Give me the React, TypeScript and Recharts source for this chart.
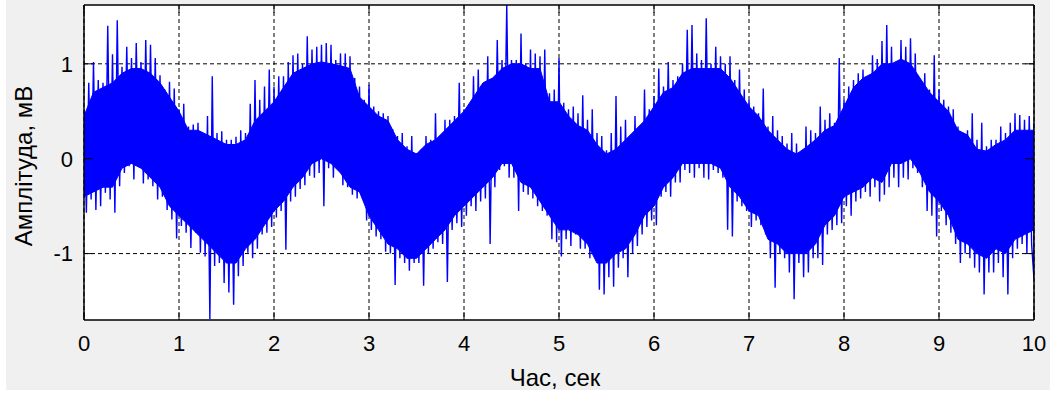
import React from "react";
import { ComposedChart, Line, Area, XAxis, YAxis, CartesianGrid } from "recharts";

// spike tips every 0.05 s (upper / lower), mV
const HI = [
  0.52, 0.8, 1.02, 0.83, 0.8, 1.4, 1.1, 1.46, 0.97, 1.18,
  1.06, 1.22, 1.02, 1.25, 1.2, 1.06, 0.88, 0.73, 0.81, 0.74,
  0.52, 0.58, 0.34, 0.36, 0.38, 0.27, 0.45, 0.87, 0.27, 0.29,
  0.2, 0.2, 0.23, 0.3, 0.27, 0.58, 0.83, 0.62, 0.76, 0.94,
  0.76, 0.87, 0.87, 1.02, 1.09, 1.11, 1.0, 1.29, 1.15, 1.18,
  1.2, 1.22, 1.2, 1.04, 1.11, 1.11, 1.08, 0.85, 0.76, 0.62,
  0.78, 0.55, 0.5, 0.48, 0.45, 0.31, 0.24, 0.27, 0.13, 0.24,
  0.06, 0.1, 0.24, 0.2, 0.48, 0.24, 0.41, 0.41, 0.45, 0.8,
  0.52, 0.55, 0.87, 0.94, 0.76, 1.08, 0.83, 1.25, 1.04, 1.62,
  1.04, 1.04, 1.32, 1.0, 1.15, 1.11, 1.08, 1.15, 0.69, 0.73,
  1.06, 0.59, 0.52, 0.55, 0.48, 0.67, 0.41, 0.52, 0.27, 0.24,
  0.09, 0.27, 0.66, 0.34, 0.41, 0.24, 0.45, 0.34, 0.73, 0.52,
  0.66, 0.95, 0.76, 1.02, 0.83, 0.87, 1.0, 1.36, 1.41, 1.11,
  1.04, 1.48, 1.0, 1.18, 1.08, 1.0, 1.08, 0.83, 0.94, 0.73,
  0.62, 0.55, 0.48, 0.74, 0.34, 0.45, 0.3, 0.24, 0.16, 0.27,
  0.16, 0.06, 0.34, 0.3, 0.27, 0.55, 0.41, 0.48, 0.38, 1.06,
  0.62, 0.76, 0.83, 0.9, 0.94, 0.87, 1.09, 1.05, 1.24, 1.41,
  1.18, 1.0, 1.25, 1.18, 1.27, 1.11, 0.83, 0.9, 0.73, 1.09,
  0.73, 0.62, 0.55, 0.52, 0.34, 0.27, 0.3, 0.48, 0.2, 0.38,
  0.13, 0.2, 0.2, 0.34, 0.27, 0.38, 0.48, 0.46, 0.41, 0.45,
  0.38,
];

const LO = [
  -0.57, -0.43, -0.54, -0.5, -0.36, -0.43, -0.57, -0.29, -0.15, -0.08,
  -0.22, -0.08, -0.26, -0.22, -0.29, -0.43, -0.4, -0.54, -0.64, -0.84,
  -0.71, -0.78, -0.94, -0.78, -0.99, -1.03, -1.69, -1.13, -1.1, -1.31,
  -1.41, -1.54, -1.24, -1.13, -0.99, -1.05, -0.95, -0.8, -0.78, -0.72,
  -0.62, -0.55, -0.96, -0.45, -0.4, -0.32, -0.28, -0.18, -0.2, -0.15,
  -0.5, -0.1, -0.2, -0.12, -0.28, -0.3, -0.38, -0.42, -0.4, -0.65,
  -0.75, -0.82, -0.85, -0.98, -1.0, -1.33, -1.05, -1.1, -1.18, -1.1,
  -1.1, -1.34, -1.0, -0.95, -0.88, -0.9, -1.3, -0.75, -0.68, -0.72,
  -0.6, -0.5, -0.55, -0.45, -0.42, -0.9, -0.3, -0.12, -0.08, -0.2,
  -0.2, -0.55, -0.35, -0.38, -0.42, -0.5, -0.55, -0.6, -0.85, -0.88,
  -1.03, -0.85, -0.92, -0.8, -0.95, -0.95, -1.05, -1.0, -1.38, -1.43,
  -1.25, -1.35, -1.15, -1.05, -1.25, -1.0, -0.92, -0.8, -0.72, -0.65,
  -0.7, -0.4, -0.35, -0.4, -0.25, -0.25, -0.12, -0.15, -0.2, -0.1,
  -0.2, -0.22, -0.12, -0.15, -0.2, -0.75, -0.82, -0.45, -0.5, -0.55,
  -0.72, -0.65, -0.7, -0.8, -1.05, -1.36, -1.0, -1.05, -1.2, -1.48,
  -1.1, -1.25, -1.2, -1.05, -1.05, -1.12, -0.8, -0.75, -0.7, -0.68,
  -0.5, -0.6, -0.45, -0.42, -0.35, -0.4, -0.3, -0.45, -0.38, -0.3,
  -0.2, -0.3, -0.2, -0.22, -0.1, -0.15, -0.3, -0.55, -0.6, -0.82,
  -0.55, -0.7, -0.78, -0.9, -1.1, -1.0, -1.05, -1.15, -1.2, -1.43,
  -1.2, -1.2, -1.1, -1.25, -1.43, -1.05, -0.95, -0.9, -1.0, -0.9,
  -1.27,
];

// solid core of the trace, read every 0.1 s, mV
const CORE_HI = [
  0.45, 0.7, 0.75, 0.8, 0.9, 0.95, 0.95, 0.9, 0.8, 0.65,
  0.5, 0.3, 0.3, 0.25, 0.2, 0.15, 0.15, 0.2, 0.4, 0.5,
  0.6, 0.75, 0.9, 0.95, 1.0, 1.02, 1.0, 0.98, 0.95, 0.65,
  0.55, 0.45, 0.4, 0.2, 0.1, 0.05, 0.15, 0.2, 0.3, 0.4,
  0.5, 0.65, 0.8, 0.85, 0.95, 1.0, 1.0, 0.95, 0.95, 0.6,
  0.6, 0.45, 0.35, 0.3, 0.15, 0.05, 0.1, 0.2, 0.3, 0.4,
  0.55, 0.7, 0.75, 0.9, 0.95, 0.95, 0.95, 0.95, 0.85, 0.7,
  0.55, 0.45, 0.3, 0.2, 0.1, 0.05, 0.12, 0.2, 0.3, 0.35,
  0.55, 0.75, 0.85, 0.9, 1.0, 1.0, 1.05, 1.0, 0.85, 0.7,
  0.6, 0.5, 0.3, 0.25, 0.1, 0.08, 0.15, 0.2, 0.3, 0.3,
  0.3,
];

const CORE_LO = [
  -0.4, -0.35, -0.3, -0.3, -0.1, -0.05, -0.1, -0.2, -0.3, -0.5,
  -0.6, -0.7, -0.8, -0.9, -1.0, -1.1, -1.1, -0.95, -0.85, -0.7,
  -0.55, -0.45, -0.3, -0.2, -0.05, 0.0, -0.05, -0.15, -0.3, -0.35,
  -0.6, -0.75, -0.9, -0.95, -1.05, -1.05, -0.95, -0.85, -0.75, -0.6,
  -0.5, -0.4, -0.3, -0.2, -0.05, -0.05, -0.25, -0.3, -0.45, -0.6,
  -0.75, -0.75, -0.8, -0.9, -1.1, -1.1, -1.0, -0.95, -0.8, -0.6,
  -0.5, -0.3, -0.2, -0.05, -0.05, -0.05, -0.05, -0.1, -0.3, -0.4,
  -0.55, -0.6, -0.85, -0.9, -1.0, -1.0, -1.0, -0.9, -0.7, -0.6,
  -0.4, -0.35, -0.3, -0.2, -0.25, -0.05, -0.05, 0.0, -0.15, -0.35,
  -0.45, -0.6, -0.85, -0.9, -1.0, -1.05, -0.95, -1.0, -0.85, -0.8,
  -0.75,
];

const TIP_STEP = 0.05;
const CORE_STEP = 0.1;
const X_TICKS = [0, 1, 2, 3, 4, 5, 6, 7, 8, 9, 10];
const Y_TICKS = [-1, 0, 1];
const Y_DOMAIN = [-1.7, 1.62];

// zigzag through the tips: upper tip at t, lower tip half a step later
const tips = HI.flatMap((hi, i) => {
  const t = i * TIP_STEP;
  if (i === HI.length - 1) return [{ t, v: LO[i] }, { t, v: hi }];
  return [{ t, v: hi }, { t: t + TIP_STEP / 2, v: LO[i] }];
});
const core = CORE_HI.map((hi, i) => ({ t: i * CORE_STEP, band: [CORE_LO[i], hi] }));

const W = 1050;
const H = 394;
const PLOT = { left: 84, right: 1034, top: 5, bottom: 320 };
const FONT = "'Liberation Sans', Arial, sans-serif";
const BLUE = "#0000ff";

const BottomTick = ({ x, payload }: any) => (
  <g>
    <line x1={x} x2={x} y1={PLOT.bottom} y2={PLOT.bottom - 8} stroke="#000" />
    <text x={x} y={PLOT.bottom + 15} dy="0.71em" textAnchor="middle" fontSize={22} fontFamily={FONT} fill="#000">
      {payload.value}
    </text>
  </g>
);

const LeftTick = ({ y, payload }: any) => (
  <g>
    <line x1={PLOT.left} x2={PLOT.left + 9} y1={y} y2={y} stroke="#000" />
    <text x={PLOT.left - 11} y={y} dy="0.355em" textAnchor="end" fontSize={22} fontFamily={FONT} fill="#000">
      {payload.value}
    </text>
  </g>
);

const TopTick = ({ x }: any) => <line x1={x} x2={x} y1={PLOT.top} y2={PLOT.top + 8} stroke="#000" />;
const RightTick = ({ y }: any) => <line x1={PLOT.right} x2={PLOT.right - 9} y1={y} y2={y} stroke="#000" />;

const axisLine = { stroke: "#000", strokeWidth: 1.5 };

export default function App() {
  return (
    <div style={{ position: "relative", width: W, height: H, background: "#fff" }}>
      <style>{"body{margin:0}"}</style>
      <div style={{ position: "absolute", left: 6, top: 0, width: W - 6, height: 390, background: "#f0f0f0" }} />
      <div style={{ position: "absolute", left: 0, top: 0 }}>
        <ComposedChart width={W} height={H} margin={{ top: 0, right: 0, bottom: 0, left: 0 }}>
          <CartesianGrid
            xAxisId="b"
            yAxisId="l"
            fill="#fff"
            stroke="#000"
            strokeDasharray="4 3"
            horizontalValues={Y_TICKS}
            verticalValues={X_TICKS}
          />
          <XAxis
            xAxisId="b"
            dataKey="t"
            type="number"
            domain={[0, 10]}
            ticks={X_TICKS}
            height={H - PLOT.bottom}
            tickSize={0}
            tick={<BottomTick />}
            axisLine={axisLine}
            allowDataOverflow
          />
          <XAxis
            xAxisId="t"
            orientation="top"
            dataKey="t"
            type="number"
            domain={[0, 10]}
            ticks={X_TICKS}
            height={PLOT.top}
            tickSize={0}
            tick={<TopTick />}
            axisLine={axisLine}
            allowDataOverflow
          />
          <YAxis
            yAxisId="l"
            type="number"
            domain={Y_DOMAIN}
            ticks={Y_TICKS}
            width={PLOT.left}
            tickSize={0}
            tick={<LeftTick />}
            axisLine={axisLine}
            allowDataOverflow
          />
          <YAxis
            yAxisId="r"
            orientation="right"
            type="number"
            domain={Y_DOMAIN}
            ticks={Y_TICKS}
            width={W - PLOT.right}
            tickSize={0}
            tick={<RightTick />}
            axisLine={axisLine}
            allowDataOverflow
          />
          <Area
            xAxisId="b"
            yAxisId="l"
            data={core}
            type="linear"
            dataKey="band"
            stroke={BLUE}
            strokeWidth={1}
            fill={BLUE}
            fillOpacity={1}
            dot={false}
            activeDot={false}
            isAnimationActive={false}
          />
          <Line
            xAxisId="b"
            yAxisId="l"
            data={tips}
            type="linear"
            dataKey="v"
            stroke={BLUE}
            strokeWidth={1.4}
            dot={false}
            activeDot={false}
            isAnimationActive={false}
          />
          <Line
            xAxisId="t"
            yAxisId="r"
            data={tips}
            dataKey="v"
            stroke="none"
            dot={false}
            activeDot={false}
            legendType="none"
            isAnimationActive={false}
          />
        </ComposedChart>
      </div>
      <svg width={W} height={H} style={{ position: "absolute", left: 0, top: 0, pointerEvents: "none" }}>
        <text x={555} y={386} textAnchor="middle" fontSize={24} fontFamily={FONT} fill="#000">
          Час, сек
        </text>
        <text transform="translate(32,166) rotate(-90)" textAnchor="middle" fontSize={24} fontFamily={FONT} fill="#000">
          Амплітуда, мВ
        </text>
      </svg>
    </div>
  );
}
